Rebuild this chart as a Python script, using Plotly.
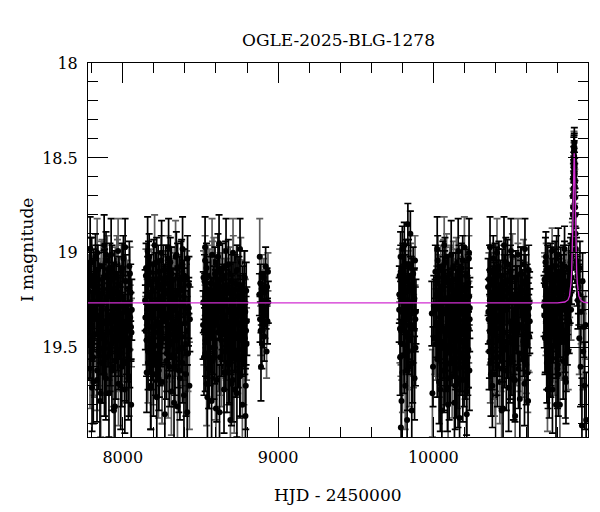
import plotly.graph_objects as go

title_text = "OGLE-2025-BLG-1278"
x_label = "HJD - 2450000"
y_label = "I magnitude"

# ---------------- season 1 ----------------
t_s1 = [7776, 7779, 7783, 7786, 7789, 7792, 7796, 7799, 7802, 7805,
        7808, 7812, 7815, 7818, 7821, 7824, 7828, 7831, 7834, 7837,
        7840, 7844, 7847, 7850, 7853, 7856, 7860, 7863, 7866, 7869,
        7872, 7876, 7879, 7882, 7885, 7888, 7892, 7895, 7898, 7901,
        7904, 7908, 7911, 7914, 7917, 7920, 7924, 7927, 7930, 7933,
        7936, 7940, 7943, 7946, 7949, 7952, 7956, 7959, 7962, 7965,
        7968, 7972, 7975, 7978, 7981, 7984, 7988, 7991, 7994, 7997,
        8000, 8004, 8007, 8010, 8013, 8016, 8020, 8023, 8026, 8029,
        8032, 8036, 8039, 8042, 8045, 8048, 8051, 8054, 8056, 8058]
m_s1 = [19.32, 19.15, 19.48, 19.27, 19.61, 19.05, 19.38, 19.22, 19.71, 19.29,
        19.44, 19.12, 19.35, 19.56, 19.19, 19.02, 19.41, 19.26, 19.67, 19.33,
        19.09, 19.52, 19.24, 19.37, 19.78, 19.18, 19.45, 19.30, 19.06, 19.58,
        19.21, 19.39, 19.13, 19.64, 19.28, 19.47, 19.01, 19.34, 19.55, 19.23,
        19.42, 19.16, 19.74, 19.31, 19.08, 19.50, 19.25, 19.36, 19.62, 19.14,
        19.40, 19.20, 19.83, 19.29, 19.46, 19.11, 19.57, 19.33, 19.04, 19.43,
        19.26, 19.69, 19.17, 19.38, 19.53, 19.22, 19.35, 19.10, 19.60, 19.28,
        19.49, 19.03, 19.40, 19.24, 19.72, 19.31, 19.15, 19.45, 19.58, 19.19,
        19.37, 19.66, 19.27, 19.07, 19.51, 19.34, 19.21, 19.80, 19.42, 19.30]
e_s1 = [0.17, 0.14, 0.19, 0.16, 0.21, 0.13, 0.18, 0.15, 0.23, 0.16,
        0.19, 0.14, 0.17, 0.20, 0.15, 0.12, 0.18, 0.16, 0.22, 0.17,
        0.13, 0.20, 0.15, 0.18, 0.24, 0.15, 0.19, 0.16, 0.13, 0.21,
        0.15, 0.18, 0.14, 0.22, 0.16, 0.19, 0.12, 0.17, 0.20, 0.15,
        0.18, 0.14, 0.23, 0.17, 0.13, 0.20, 0.16, 0.17, 0.21, 0.14,
        0.18, 0.15, 0.25, 0.16, 0.19, 0.14, 0.20, 0.17, 0.13, 0.19,
        0.16, 0.22, 0.15, 0.18, 0.20, 0.15, 0.17, 0.14, 0.21, 0.16,
        0.19, 0.12, 0.18, 0.16, 0.23, 0.17, 0.14, 0.19, 0.21, 0.15,
        0.18, 0.22, 0.16, 0.13, 0.20, 0.17, 0.15, 0.24, 0.18, 0.16]
t_s1b = [7777.5, 7782, 7787, 7791, 7795, 7800, 7804, 7809, 7813, 7817,
         7822, 7826, 7830, 7835, 7839, 7843, 7848, 7852, 7857, 7861,
         7865, 7870, 7874, 7878, 7883, 7887, 7891, 7896, 7900, 7905,
         7909, 7913, 7918, 7922, 7926, 7931, 7935, 7939, 7944, 7948,
         7953, 7957, 7961, 7966, 7970, 7974, 7979, 7983, 7987, 7992,
         7996, 8001, 8005, 8011, 8017, 8024, 8031, 8038, 8046, 8053]
m_s1b = [19.20, 19.36, 19.11, 19.47, 19.28, 19.05, 19.39, 19.55, 19.18, 19.31,
         19.43, 19.09, 19.26, 19.62, 19.34, 19.14, 19.50, 19.23, 19.40, 19.07,
         19.30, 19.58, 19.19, 19.45, 19.12, 19.37, 19.66, 19.25, 19.04, 19.42,
         19.33, 19.16, 19.53, 19.22, 19.48, 19.10, 19.35, 19.60, 19.27, 19.13,
         19.44, 19.21, 19.38, 19.06, 19.52, 19.29, 19.17, 19.46, 19.70, 19.32,
         19.08, 19.41, 19.24, 19.57, 19.15, 19.36, 19.49, 19.26, 19.11, 19.39]
e_s1b = [0.15, 0.17, 0.14, 0.19, 0.16, 0.13, 0.18, 0.20, 0.15, 0.17,
         0.19, 0.13, 0.16, 0.21, 0.17, 0.14, 0.20, 0.15, 0.18, 0.13,
         0.16, 0.21, 0.15, 0.19, 0.14, 0.18, 0.22, 0.16, 0.13, 0.18,
         0.17, 0.15, 0.20, 0.15, 0.19, 0.14, 0.17, 0.21, 0.16, 0.14,
         0.19, 0.15, 0.18, 0.13, 0.20, 0.16, 0.15, 0.19, 0.23, 0.17,
         0.13, 0.18, 0.16, 0.21, 0.14, 0.17, 0.19, 0.16, 0.14, 0.18]
t_s1x = [7790, 7835, 7880, 7925, 7970, 8015, 7810, 7858, 7950, 8040]
m_s1x = [18.98, 19.00, 18.96, 19.01, 18.99, 18.97, 19.68, 19.74, 19.81, 19.65]
e_s1x = [0.17, 0.18, 0.16, 0.19, 0.17, 0.15, 0.22, 0.23, 0.25, 0.21]

# ---------------- season 2 ----------------
t_s2 = [8144, 8147, 8150, 8154, 8157, 8160, 8163, 8167, 8170, 8173,
        8176, 8180, 8183, 8186, 8189, 8193, 8196, 8199, 8202, 8206,
        8209, 8212, 8215, 8219, 8222, 8225, 8228, 8232, 8235, 8238,
        8241, 8245, 8248, 8251, 8254, 8258, 8261, 8264, 8267, 8271,
        8274, 8277, 8280, 8284, 8287, 8290, 8293, 8297, 8300, 8303,
        8306, 8310, 8313, 8316, 8319, 8323, 8326, 8329, 8332, 8336,
        8339, 8342, 8345, 8349, 8352, 8355, 8358, 8362, 8365, 8368,
        8371, 8375, 8378, 8381, 8384, 8388, 8391, 8394, 8397, 8401,
        8404, 8407, 8410, 8414, 8417, 8420, 8423, 8426, 8429, 8432]
m_s2 = [19.25, 19.41, 19.08, 19.63, 19.30, 19.17, 19.52, 19.36, 19.02, 19.45,
        19.21, 19.70, 19.33, 19.12, 19.48, 19.27, 19.59, 19.06, 19.39, 19.23,
        19.55, 19.14, 19.34, 19.76, 19.29, 19.44, 19.10, 19.62, 19.37, 19.19,
        19.50, 19.26, 19.04, 19.42, 19.68, 19.31, 19.16, 19.47, 19.22, 19.85,
        19.35, 19.09, 19.57, 19.28, 19.40, 19.13, 19.65, 19.32, 19.20, 19.49,
        19.05, 19.38, 19.73, 19.24, 19.54, 19.18, 19.43, 19.30, 19.11, 19.60,
        19.27, 19.46, 19.01, 19.36, 19.81, 19.22, 19.51, 19.15, 19.39, 19.66,
        19.33, 19.07, 19.44, 19.26, 19.58, 19.19, 19.37, 19.75, 19.12, 19.48,
        19.29, 19.64, 19.21, 19.41, 19.03, 19.53, 19.32, 19.17, 19.70, 19.35]
e_s2 = [0.16, 0.18, 0.13, 0.21, 0.16, 0.15, 0.20, 0.17, 0.12, 0.19,
        0.15, 0.23, 0.17, 0.14, 0.19, 0.16, 0.21, 0.13, 0.18, 0.15,
        0.20, 0.14, 0.17, 0.24, 0.16, 0.19, 0.14, 0.21, 0.18, 0.15,
        0.20, 0.16, 0.13, 0.18, 0.22, 0.17, 0.15, 0.19, 0.15, 0.26,
        0.17, 0.13, 0.20, 0.16, 0.18, 0.14, 0.22, 0.17, 0.15, 0.19,
        0.13, 0.18, 0.23, 0.16, 0.20, 0.15, 0.19, 0.16, 0.14, 0.21,
        0.16, 0.19, 0.12, 0.17, 0.25, 0.15, 0.20, 0.14, 0.18, 0.22,
        0.17, 0.13, 0.19, 0.16, 0.21, 0.15, 0.18, 0.24, 0.14, 0.19,
        0.16, 0.22, 0.15, 0.18, 0.12, 0.20, 0.17, 0.15, 0.23, 0.17]
t_s2b = [8145.5, 8149, 8153, 8158, 8162, 8166, 8171, 8175, 8179, 8184,
         8188, 8192, 8197, 8201, 8205, 8210, 8214, 8218, 8223, 8227,
         8231, 8236, 8240, 8244, 8249, 8253, 8257, 8262, 8266, 8270,
         8275, 8279, 8283, 8288, 8292, 8296, 8301, 8305, 8309, 8314,
         8318, 8322, 8327, 8331, 8335, 8340, 8344, 8348, 8353, 8357,
         8361, 8366, 8370, 8374, 8379, 8383, 8392, 8400, 8411, 8425]
m_s2b = [19.34, 19.12, 19.46, 19.23, 19.58, 19.07, 19.39, 19.28, 19.15, 19.52,
         19.31, 19.20, 19.64, 19.10, 19.42, 19.26, 19.37, 19.05, 19.49, 19.18,
         19.29, 19.56, 19.13, 19.40, 19.24, 19.68, 19.33, 19.09, 19.45, 19.21,
         19.36, 19.16, 19.53, 19.27, 19.03, 19.43, 19.60, 19.19, 19.32, 19.11,
         19.47, 19.25, 19.38, 19.14, 19.55, 19.30, 19.22, 19.41, 19.08, 19.35,
         19.62, 19.17, 19.44, 19.28, 19.06, 19.50, 19.23, 19.37, 19.13, 19.29]
e_s2b = [0.17, 0.14, 0.19, 0.15, 0.21, 0.13, 0.18, 0.16, 0.14, 0.20,
         0.17, 0.15, 0.22, 0.14, 0.18, 0.16, 0.17, 0.13, 0.19, 0.15,
         0.16, 0.20, 0.14, 0.18, 0.15, 0.22, 0.17, 0.13, 0.19, 0.15,
         0.17, 0.14, 0.20, 0.16, 0.12, 0.19, 0.21, 0.15, 0.17, 0.14,
         0.19, 0.16, 0.18, 0.14, 0.20, 0.16, 0.15, 0.18, 0.13, 0.17,
         0.22, 0.15, 0.19, 0.16, 0.13, 0.20, 0.15, 0.17, 0.14, 0.16]
t_s2x = [8160, 8205, 8250, 8295, 8340, 8385, 8180, 8230, 8330, 8415]
m_s2x = [18.99, 18.96, 19.00, 18.97, 19.02, 18.98, 19.71, 19.66, 19.79, 19.84]
e_s2x = [0.18, 0.16, 0.17, 0.15, 0.19, 0.17, 0.22, 0.21, 0.24, 0.25]

# ---------------- season 3 ----------------
t_s3 = [8517, 8520, 8523, 8527, 8530, 8533, 8536, 8540, 8543, 8546,
        8549, 8552, 8556, 8559, 8562, 8565, 8568, 8572, 8575, 8578,
        8581, 8584, 8588, 8591, 8594, 8597, 8600, 8604, 8607, 8610,
        8613, 8616, 8620, 8623, 8626, 8629, 8632, 8636, 8639, 8642,
        8645, 8648, 8652, 8655, 8658, 8661, 8664, 8668, 8671, 8674,
        8677, 8680, 8684, 8687, 8690, 8693, 8696, 8700, 8703, 8706,
        8709, 8712, 8716, 8719, 8722, 8725, 8728, 8732, 8735, 8738,
        8741, 8744, 8748, 8751, 8754, 8757, 8760, 8764, 8767, 8770,
        8773, 8776, 8780, 8783, 8786, 8789, 8792, 8795, 8797, 8799]
m_s3 = [19.38, 19.13, 19.55, 19.27, 19.04, 19.46, 19.31, 19.69, 19.20, 19.42,
        19.09, 19.35, 19.61, 19.24, 19.50, 19.16, 19.40, 19.78, 19.29, 19.07,
        19.45, 19.22, 19.57, 19.33, 19.11, 19.66, 19.37, 19.19, 19.48, 19.26,
        19.02, 19.53, 19.30, 19.84, 19.14, 19.41, 19.23, 19.60, 19.34, 19.08,
        19.47, 19.28, 19.72, 19.18, 19.39, 19.52, 19.12, 19.36, 19.63, 19.25,
        19.43, 19.06, 19.32, 19.58, 19.21, 19.88, 19.40, 19.15, 19.49, 19.27,
        19.67, 19.03, 19.35, 19.44, 19.19, 19.56, 19.30, 19.10, 19.74, 19.37,
        19.24, 19.51, 19.17, 19.42, 19.64, 19.28, 19.05, 19.46, 19.33, 19.80,
        19.22, 19.39, 19.59, 19.13, 19.45, 19.31, 19.70, 19.20, 19.48, 19.36]
e_s3 = [0.18, 0.14, 0.20, 0.16, 0.13, 0.19, 0.17, 0.22, 0.15, 0.18,
        0.13, 0.17, 0.21, 0.15, 0.20, 0.14, 0.18, 0.24, 0.16, 0.13,
        0.19, 0.15, 0.20, 0.17, 0.14, 0.22, 0.18, 0.15, 0.19, 0.16,
        0.12, 0.20, 0.16, 0.25, 0.14, 0.18, 0.15, 0.21, 0.17, 0.13,
        0.19, 0.16, 0.23, 0.15, 0.18, 0.20, 0.14, 0.17, 0.21, 0.16,
        0.19, 0.13, 0.17, 0.21, 0.15, 0.26, 0.18, 0.14, 0.19, 0.16,
        0.22, 0.12, 0.17, 0.19, 0.15, 0.20, 0.16, 0.14, 0.23, 0.18,
        0.15, 0.20, 0.15, 0.18, 0.22, 0.16, 0.13, 0.19, 0.17, 0.24,
        0.15, 0.18, 0.21, 0.14, 0.19, 0.17, 0.23, 0.15, 0.19, 0.18]
t_s3b = [8518.5, 8522, 8526, 8531, 8535, 8539, 8544, 8548, 8553, 8557,
         8561, 8566, 8570, 8574, 8579, 8583, 8587, 8592, 8596, 8601,
         8605, 8609, 8614, 8618, 8622, 8627, 8631, 8635, 8640, 8644,
         8649, 8653, 8657, 8662, 8666, 8670, 8675, 8679, 8683, 8688,
         8692, 8697, 8701, 8705, 8710, 8714, 8718, 8723, 8727, 8731,
         8736, 8740, 8745, 8749, 8755, 8762, 8769, 8777, 8785, 8794]
m_s3b = [19.26, 19.41, 19.15, 19.53, 19.33, 19.08, 19.47, 19.22, 19.61, 19.36,
         19.12, 19.44, 19.29, 19.19, 19.57, 19.38, 19.05, 19.50, 19.24, 19.34,
         19.67, 19.17, 19.42, 19.30, 19.10, 19.55, 19.27, 19.46, 19.14, 19.39,
         19.21, 19.63, 19.35, 19.07, 19.48, 19.25, 19.40, 19.18, 19.59, 19.31,
         19.11, 19.45, 19.28, 19.52, 19.20, 19.37, 19.72, 19.16, 19.43, 19.32,
         19.09, 19.54, 19.23, 19.38, 19.65, 19.19, 19.46, 19.27, 19.13, 19.41]
e_s3b = [0.16, 0.18, 0.14, 0.20, 0.17, 0.13, 0.19, 0.15, 0.21, 0.17,
         0.14, 0.19, 0.16, 0.15, 0.20, 0.18, 0.13, 0.19, 0.15, 0.17,
         0.22, 0.15, 0.18, 0.16, 0.14, 0.20, 0.16, 0.19, 0.14, 0.18,
         0.15, 0.21, 0.17, 0.13, 0.19, 0.16, 0.18, 0.15, 0.21, 0.17,
         0.14, 0.19, 0.16, 0.20, 0.15, 0.18, 0.23, 0.15, 0.19, 0.17,
         0.13, 0.20, 0.15, 0.18, 0.22, 0.15, 0.19, 0.16, 0.14, 0.18]
t_s3x = [8530, 8575, 8620, 8665, 8710, 8755, 8545, 8600, 8700, 8790]
m_s3x = [18.97, 19.01, 18.95, 18.99, 19.00, 18.98, 19.76, 19.82, 19.69, 19.86]
e_s3x = [0.16, 0.19, 0.15, 0.17, 0.18, 0.16, 0.23, 0.25, 0.22, 0.25]

# ---------------- season 4 (short) ----------------
t_s4 = [8880, 8882, 8884, 8886, 8888, 8890, 8892, 8894, 8896, 8898,
        8900, 8902, 8905, 8908, 8911, 8914, 8917, 8920, 8923, 8926,
        8929, 8932, 8935, 8937]
m_s4 = [19.22, 19.02, 19.35, 19.16, 19.41, 19.60, 19.27, 19.11, 19.48, 19.30,
        19.19, 19.25, 19.38, 19.13, 19.44, 19.21, 19.33, 19.07, 19.29, 19.52,
        19.18, 19.36, 19.10, 19.26]
e_s4 = [0.11, 0.20, 0.12, 0.10, 0.13, 0.18, 0.11, 0.10, 0.13, 0.11,
        0.10, 0.11, 0.12, 0.10, 0.13, 0.11, 0.12, 0.10, 0.11, 0.14,
        0.10, 0.12, 0.10, 0.11]

# ---------------- season 5 ----------------
t_s5 = [9780, 9783, 9786, 9789, 9792, 9795, 9798, 9801, 9804, 9807,
        9810, 9813, 9816, 9819, 9822, 9825, 9828, 9831, 9834, 9837,
        9840, 9843, 9846, 9849, 9852, 9855, 9858, 9861, 9864, 9867,
        9870, 9873, 9876, 9879, 9882, 9885, 9888, 9791, 9815, 9836]
m_s5 = [19.30, 19.12, 19.55, 19.02, 19.41, 19.78, 19.24, 19.63, 19.08, 19.36,
        19.49, 18.96, 19.27, 19.70, 19.15, 19.44, 19.33, 19.88, 19.20, 19.52,
        19.06, 19.38, 19.60, 19.28, 18.90, 19.46, 19.17, 19.83, 19.34, 19.58,
        19.11, 19.40, 19.25, 19.66, 19.04, 19.50, 19.31, 19.92, 19.21, 18.85]
e_s5 = [0.17, 0.14, 0.20, 0.13, 0.18, 0.24, 0.16, 0.21, 0.13, 0.17,
        0.19, 0.12, 0.16, 0.23, 0.14, 0.19, 0.17, 0.26, 0.15, 0.20,
        0.13, 0.18, 0.21, 0.16, 0.12, 0.19, 0.15, 0.25, 0.17, 0.21,
        0.14, 0.18, 0.16, 0.22, 0.13, 0.20, 0.17, 0.27, 0.15, 0.11]
t_s5b = [9781, 9785, 9790, 9794, 9797, 9800, 9803, 9806, 9809, 9812,
         9818, 9821, 9824, 9827, 9830, 9833, 9839, 9842, 9848, 9854,
         9860, 9866, 9872, 9878, 9884]
m_s5b = [19.22, 19.40, 19.10, 19.31, 19.48, 18.98, 19.26, 19.37, 19.15, 19.54,
         19.29, 19.06, 19.43, 19.20, 19.34, 19.62, 19.13, 19.45, 19.27, 19.08,
         19.39, 19.18, 19.51, 19.24, 19.35]
e_s5b = [0.15, 0.18, 0.14, 0.17, 0.19, 0.12, 0.16, 0.18, 0.14, 0.20,
         0.16, 0.13, 0.19, 0.15, 0.17, 0.21, 0.14, 0.19, 0.16, 0.13,
         0.18, 0.15, 0.20, 0.16, 0.17]

# ---------------- season 6 ----------------
t_s6 = [9990, 9994, 9998, 10003, 10008, 10013, 10018, 10022, 10025, 10028,
        10031, 10034, 10037, 10040, 10043, 10046, 10049, 10052, 10055, 10058,
        10061, 10064, 10067, 10070, 10073, 10076, 10079, 10082, 10085, 10088,
        10091, 10094, 10097, 10100, 10103, 10106, 10109, 10112, 10115, 10118,
        10121, 10124, 10127, 10130, 10133, 10136, 10139, 10142, 10145, 10148,
        10151, 10154, 10157, 10160, 10163, 10166, 10169, 10172, 10175, 10178,
        10181, 10184, 10187, 10190, 10193, 10196, 10199, 10202, 10205, 10208,
        10211, 10214, 10217, 10220, 10223, 10226, 10229, 10232, 10235, 10027,
        10036, 10051, 10066, 10081, 10096, 10111, 10126, 10141, 10156, 10171]
m_s6 = [19.32, 19.74, 19.60, 19.28, 19.45, 19.10, 19.37, 19.22, 19.56, 19.04,
        19.41, 19.29, 19.68, 19.15, 19.34, 19.50, 19.19, 19.26, 19.83, 19.39,
        19.07, 19.47, 19.31, 19.62, 19.13, 19.36, 19.24, 19.53, 19.02, 19.43,
        19.71, 19.20, 19.35, 19.16, 19.49, 19.27, 19.58, 19.09, 19.40, 19.30,
        19.65, 19.23, 19.44, 19.12, 19.33, 19.79, 19.18, 19.52, 19.38, 19.05,
        19.46, 19.25, 19.61, 19.14, 19.42, 19.31, 19.87, 19.21, 19.36, 19.55,
        19.08, 19.48, 19.28, 19.67, 19.17, 19.40, 19.33, 19.11, 19.57, 19.26,
        19.44, 19.73, 19.19, 19.35, 19.51, 19.51, 19.03, 19.62, 19.29, 19.46,
        19.22, 19.38, 19.06, 19.59, 19.27, 19.43, 19.14, 19.70, 19.34, 19.24]
e_s6 = [0.17, 0.23, 0.21, 0.16, 0.19, 0.14, 0.18, 0.15, 0.20, 0.13,
        0.18, 0.16, 0.22, 0.14, 0.17, 0.20, 0.15, 0.16, 0.25, 0.18,
        0.13, 0.19, 0.17, 0.21, 0.14, 0.18, 0.15, 0.20, 0.12, 0.19,
        0.23, 0.15, 0.17, 0.14, 0.19, 0.16, 0.21, 0.13, 0.18, 0.16,
        0.22, 0.15, 0.19, 0.14, 0.17, 0.24, 0.15, 0.20, 0.18, 0.13,
        0.19, 0.16, 0.21, 0.14, 0.18, 0.17, 0.26, 0.15, 0.18, 0.20,
        0.13, 0.19, 0.16, 0.22, 0.15, 0.18, 0.17, 0.14, 0.20, 0.16,
        0.19, 0.23, 0.15, 0.17, 0.20, 0.20, 0.12, 0.21, 0.16, 0.19,
        0.15, 0.18, 0.13, 0.21, 0.16, 0.19, 0.14, 0.23, 0.17, 0.15]
t_s6b = [10021, 10024, 10030, 10033, 10039, 10042, 10045, 10048, 10054, 10057,
         10060, 10063, 10069, 10072, 10075, 10078, 10084, 10087, 10090, 10093,
         10099, 10102, 10105, 10108, 10114, 10117, 10120, 10123, 10129, 10132,
         10135, 10138, 10144, 10147, 10150, 10153, 10159, 10162, 10165, 10168,
         10174, 10177, 10180, 10183, 10189, 10192, 10195, 10198, 10204, 10207,
         10210, 10213, 10219, 10222, 10225, 10228, 10231, 10234, 10016, 10011]
m_s6b = [19.29, 19.45, 19.13, 19.38, 19.56, 19.21, 19.34, 19.09, 19.48, 19.26,
         19.40, 19.17, 19.62, 19.31, 19.05, 19.43, 19.24, 19.52, 19.15, 19.36,
         19.28, 19.66, 19.11, 19.41, 19.33, 19.19, 19.50, 19.25, 19.07, 19.46,
         19.37, 19.58, 19.14, 19.30, 19.44, 19.22, 19.69, 19.35, 19.10, 19.42,
         19.27, 19.53, 19.18, 19.39, 19.04, 19.47, 19.32, 19.60, 19.20, 19.36,
         19.12, 19.44, 19.28, 19.55, 19.16, 19.40, 19.23, 19.35, 19.48, 19.30]
e_s6b = [0.16, 0.19, 0.14, 0.18, 0.20, 0.15, 0.17, 0.13, 0.19, 0.16,
         0.18, 0.15, 0.22, 0.17, 0.13, 0.19, 0.15, 0.20, 0.14, 0.18,
         0.16, 0.22, 0.14, 0.18, 0.17, 0.15, 0.20, 0.16, 0.13, 0.19,
         0.18, 0.21, 0.14, 0.16, 0.19, 0.15, 0.23, 0.17, 0.14, 0.18,
         0.16, 0.20, 0.15, 0.18, 0.13, 0.19, 0.17, 0.21, 0.15, 0.18,
         0.14, 0.19, 0.16, 0.20, 0.15, 0.18, 0.15, 0.17, 0.19, 0.16]
t_s6x = [10025, 10070, 10115, 10160, 10200, 10230, 10045, 10095, 10150, 10215]
m_s6x = [18.98, 18.96, 19.01, 18.99, 18.97, 19.00, 19.72, 19.80, 19.66, 19.85]
e_s6x = [0.17, 0.15, 0.18, 0.17, 0.16, 0.18, 0.22, 0.24, 0.21, 0.25]

# ---------------- season 7 ----------------
t_s7 = [10353, 10356, 10359, 10362, 10365, 10368, 10371, 10374, 10377, 10380,
        10383, 10386, 10389, 10392, 10395, 10398, 10401, 10404, 10407, 10410,
        10413, 10416, 10419, 10422, 10425, 10428, 10431, 10434, 10437, 10440,
        10443, 10446, 10449, 10452, 10455, 10458, 10461, 10464, 10467, 10470,
        10473, 10476, 10479, 10482, 10485, 10488, 10491, 10494, 10497, 10500,
        10503, 10506, 10509, 10512, 10515, 10518, 10521, 10524, 10527, 10530,
        10533, 10536, 10539, 10542, 10545, 10548, 10551, 10554, 10557, 10560,
        10563, 10566, 10569, 10572, 10575, 10578, 10581, 10584, 10587, 10590,
        10593, 10596, 10599, 10602, 10605, 10608, 10611, 10614, 10617, 10620]
m_s7 = [19.18, 19.35, 19.52, 19.09, 19.41, 19.26, 19.64, 19.14, 19.38, 19.22,
        19.49, 19.03, 19.31, 19.57, 19.20, 19.43, 19.75, 19.28, 19.11, 19.36,
        19.60, 19.24, 19.46, 19.07, 19.33, 19.68, 19.19, 19.40, 19.53, 19.27,
        19.12, 19.44, 19.82, 19.30, 19.16, 19.51, 19.23, 19.37, 19.05, 19.62,
        19.29, 19.47, 19.15, 19.34, 19.71, 19.21, 19.42, 19.58, 19.10, 19.32,
        19.25, 19.55, 19.02, 19.39, 19.66, 19.17, 19.45, 19.30, 19.86, 19.13,
        19.36, 19.50, 19.22, 19.41, 19.08, 19.61, 19.27, 19.34, 19.77, 19.19,
        19.48, 19.11, 19.38, 19.56, 19.24, 19.43, 19.06, 19.31, 19.69, 19.20,
        19.40, 19.15, 19.54, 19.28, 19.48, 19.63, 19.33, 19.09, 19.44, 19.26]
e_s7 = [0.15, 0.17, 0.20, 0.13, 0.18, 0.16, 0.22, 0.14, 0.18, 0.15,
        0.19, 0.12, 0.17, 0.20, 0.15, 0.19, 0.24, 0.16, 0.14, 0.17,
        0.21, 0.15, 0.19, 0.13, 0.17, 0.22, 0.15, 0.18, 0.20, 0.16,
        0.14, 0.19, 0.25, 0.16, 0.15, 0.20, 0.15, 0.18, 0.13, 0.21,
        0.16, 0.19, 0.14, 0.17, 0.23, 0.15, 0.18, 0.21, 0.14, 0.17,
        0.16, 0.20, 0.12, 0.18, 0.22, 0.15, 0.19, 0.16, 0.26, 0.14,
        0.17, 0.20, 0.15, 0.18, 0.13, 0.21, 0.16, 0.17, 0.24, 0.15,
        0.19, 0.14, 0.18, 0.20, 0.15, 0.19, 0.13, 0.16, 0.22, 0.15,
        0.18, 0.14, 0.20, 0.16, 0.19, 0.21, 0.17, 0.13, 0.19, 0.16]
t_s7b = [10354.5, 10358, 10361, 10364, 10367, 10370, 10373, 10376, 10379, 10382,
         10385, 10388, 10391, 10394, 10397, 10400, 10403, 10406, 10409, 10412,
         10418, 10424, 10430, 10436, 10442, 10448, 10454, 10460, 10466, 10472,
         10478, 10484, 10490, 10496, 10502, 10508, 10514, 10520, 10526, 10532,
         10538, 10544, 10550, 10556, 10562, 10568, 10574, 10580, 10586, 10592,
         10598, 10604, 10610, 10616, 10621, 10415, 10445, 10475, 10505, 10535]
m_s7b = [19.31, 19.14, 19.47, 19.25, 19.58, 19.10, 19.38, 19.22, 19.52, 19.33,
         19.17, 19.43, 19.27, 19.64, 19.08, 19.40, 19.29, 19.19, 19.55, 19.36,
         19.12, 19.46, 19.24, 19.35, 19.61, 19.20, 19.42, 19.15, 19.50, 19.30,
         19.06, 19.44, 19.26, 19.57, 19.37, 19.13, 19.48, 19.23, 19.67, 19.32,
         19.18, 19.41, 19.28, 19.53, 19.11, 19.39, 19.25, 19.46, 19.16, 19.34,
         19.59, 19.21, 19.43, 19.29, 19.36, 19.09, 19.49, 19.27, 19.38, 19.22]
e_s7b = [0.17, 0.14, 0.19, 0.16, 0.21, 0.14, 0.18, 0.15, 0.20, 0.17,
         0.15, 0.19, 0.16, 0.22, 0.13, 0.18, 0.16, 0.15, 0.20, 0.17,
         0.14, 0.19, 0.15, 0.17, 0.21, 0.15, 0.18, 0.14, 0.20, 0.16,
         0.13, 0.19, 0.16, 0.20, 0.17, 0.14, 0.19, 0.15, 0.22, 0.17,
         0.15, 0.18, 0.16, 0.20, 0.14, 0.18, 0.16, 0.19, 0.15, 0.17,
         0.21, 0.15, 0.19, 0.16, 0.17, 0.13, 0.19, 0.16, 0.18, 0.15]
t_s7x = [10365, 10410, 10455, 10500, 10545, 10590, 10380, 10440, 10520, 10610]
m_s7x = [18.97, 19.00, 18.96, 18.99, 19.01, 18.98, 19.70, 19.83, 19.67, 19.78]
e_s7x = [0.16, 0.18, 0.15, 0.17, 0.19, 0.16, 0.22, 0.25, 0.21, 0.24]

# ---------------- season 8 (before event) ----------------
t_s8 = [10713, 10716, 10719, 10722, 10725, 10728, 10731, 10734, 10737, 10740,
        10743, 10746, 10749, 10752, 10755, 10758, 10761, 10764, 10767, 10770,
        10773, 10776, 10779, 10782, 10785, 10788, 10791, 10794, 10797, 10800,
        10803, 10806, 10809, 10812, 10815, 10818, 10821, 10824, 10827, 10830,
        10833, 10836, 10839, 10842, 10845, 10848, 10851, 10854, 10857, 10860,
        10863, 10866, 10869, 10872, 10875, 10878, 10881, 10884, 10887, 10890]
m_s8 = [19.28, 19.14, 19.45, 19.05, 19.36, 19.22, 19.58, 19.31, 19.10, 19.42,
        19.19, 19.65, 19.27, 19.38, 19.08, 19.50, 19.24, 19.33, 19.72, 19.16,
        19.40, 19.29, 19.55, 19.12, 19.35, 19.21, 19.47, 19.03, 19.32, 19.61,
        19.25, 19.43, 19.18, 19.37, 19.80, 19.26, 19.11, 19.48, 19.30, 19.20,
        19.39, 19.57, 19.15, 19.34, 19.07, 19.44, 19.23, 19.68, 19.31, 19.13,
        19.41, 19.27, 19.52, 19.09, 19.36, 19.19, 19.22, 19.05, 19.30, 19.13]
e_s8 = [0.16, 0.14, 0.19, 0.13, 0.18, 0.15, 0.21, 0.17, 0.14, 0.18,
        0.15, 0.22, 0.16, 0.18, 0.13, 0.20, 0.15, 0.17, 0.23, 0.15,
        0.18, 0.16, 0.20, 0.14, 0.17, 0.15, 0.19, 0.12, 0.17, 0.21,
        0.16, 0.19, 0.15, 0.18, 0.25, 0.16, 0.14, 0.19, 0.17, 0.15,
        0.18, 0.20, 0.14, 0.17, 0.13, 0.19, 0.15, 0.22, 0.17, 0.14,
        0.18, 0.16, 0.20, 0.13, 0.17, 0.15, 0.15, 0.13, 0.16, 0.14]
t_s8c = [10714.5, 10718, 10721, 10724, 10727, 10730, 10733, 10736, 10739, 10742,
         10745, 10748, 10751, 10754, 10757, 10760, 10763, 10766, 10769, 10772,
         10778, 10784, 10790, 10796, 10802, 10808, 10814, 10820, 10826, 10832,
         10838, 10844, 10850, 10856, 10862, 10868, 10874, 10880, 10886, 10889,
         10775, 10781, 10787, 10793, 10799, 10805, 10811, 10817, 10823, 10829]
m_s8c = [19.33, 19.17, 19.44, 19.26, 19.09, 19.52, 19.30, 19.20, 19.61, 19.38,
         19.13, 19.46, 19.24, 19.35, 19.56, 19.11, 19.40, 19.28, 19.18, 19.49,
         19.32, 19.07, 19.43, 19.25, 19.59, 19.15, 19.37, 19.22, 19.47, 19.29,
         19.10, 19.41, 19.27, 19.53, 19.19, 19.34, 19.23, 19.14, 19.08, 19.02,
         19.36, 19.21, 19.45, 19.12, 19.30, 19.64, 19.26, 19.39, 19.16, 19.42]
e_s8c = [0.17, 0.15, 0.19, 0.16, 0.14, 0.20, 0.17, 0.15, 0.21, 0.18,
         0.14, 0.19, 0.16, 0.17, 0.20, 0.14, 0.18, 0.16, 0.15, 0.19,
         0.17, 0.13, 0.19, 0.16, 0.21, 0.14, 0.18, 0.15, 0.19, 0.16,
         0.14, 0.18, 0.16, 0.20, 0.15, 0.17, 0.15, 0.14, 0.13, 0.12,
         0.18, 0.15, 0.19, 0.14, 0.17, 0.22, 0.16, 0.18, 0.15, 0.19]
t_s8x = [10725, 10765, 10805, 10845, 10735, 10790, 10850]
m_s8x = [19.02, 18.99, 19.01, 18.98, 19.72, 19.80, 19.66]
e_s8x = [0.13, 0.12, 0.14, 0.12, 0.22, 0.24, 0.21]

# ---------------- event (season 8) ----------------
t_ev = [10893, 10895, 10897, 10899, 10900, 10901, 10902, 10903, 10904, 10905,
        10906, 10907, 10908, 10908.5, 10909, 10910, 10911, 10912, 10913, 10914,
        10916, 10918, 10920, 10922, 10925, 10928, 10931, 10934,
        10902.5, 10903.5, 10904.5, 10905.5, 10906.5, 10907.5, 10909.5, 10910.5]
m_ev = [19.08, 18.95, 18.93, 18.80, 18.76, 18.70, 18.62, 18.58, 18.52, 18.47,
        18.44, 18.49, 18.42, 18.53, 18.55, 18.59, 18.65, 18.71, 18.76, 18.80,
        18.90, 18.98, 19.06, 19.04, 19.15, 19.12, 19.25, 19.18,
        18.66, 18.60, 18.55, 18.50, 18.46, 18.45, 18.58, 18.62]
e_ev = [0.12, 0.11, 0.11, 0.10, 0.10, 0.09, 0.09, 0.09, 0.08, 0.08,
        0.08, 0.08, 0.08, 0.08, 0.08, 0.09, 0.09, 0.09, 0.10, 0.10,
        0.11, 0.11, 0.12, 0.12, 0.13, 0.13, 0.15, 0.14,
        0.09, 0.09, 0.08, 0.08, 0.08, 0.08, 0.08, 0.09]

# ---------------- after event ----------------
t_s8b = [10937, 10940, 10944, 10948, 10952, 10957, 10961, 10965, 10970, 10975, 10980, 10984]
m_s8b = [19.22, 19.45, 19.08, 19.60, 19.31, 19.91, 19.15, 19.52, 19.39, 19.70, 19.38, 19.88]
e_s8b = [0.16, 0.19, 0.14, 0.21, 0.17, 0.25, 0.15, 0.20, 0.16, 0.23, 0.18, 0.25]

# ---------------- model curve ----------------
model_t = [7776, 10800, 10847, 10867, 10877, 10882, 10887, 10891, 10894, 10897,
           10899, 10901, 10903, 10905, 10907, 10909, 10911, 10913, 10915, 10917,
           10920, 10923, 10927, 10932, 10937, 10947, 10967, 10996]
model_m = [19.263, 19.263, 19.259, 19.248, 19.227, 19.203, 19.158, 19.095, 19.021, 18.915,
           18.823, 18.716, 18.604, 18.512, 18.476, 18.512, 18.604, 18.716, 18.823, 18.915,
           19.021, 19.095, 19.158, 19.203, 19.227, 19.248, 19.259, 19.263]

FONT = "DejaVu Serif"

fig = go.Figure()

seasons = [(t_s1, m_s1, e_s1), (t_s1b, m_s1b, e_s1b), (t_s1x, m_s1x, e_s1x),
           (t_s2, m_s2, e_s2), (t_s2b, m_s2b, e_s2b), (t_s2x, m_s2x, e_s2x),
           (t_s3, m_s3, e_s3), (t_s3b, m_s3b, e_s3b), (t_s3x, m_s3x, e_s3x),
           (t_s4, m_s4, e_s4),
           (t_s5, m_s5, e_s5), (t_s5b, m_s5b, e_s5b),
           (t_s6, m_s6, e_s6), (t_s6b, m_s6b, e_s6b), (t_s6x, m_s6x, e_s6x),
           (t_s7, m_s7, e_s7), (t_s7b, m_s7b, e_s7b), (t_s7x, m_s7x, e_s7x),
           (t_s8, m_s8, e_s8), (t_s8c, m_s8c, e_s8c), (t_s8x, m_s8x, e_s8x),
           (t_ev, m_ev, e_ev), (t_s8b, m_s8b, e_s8b)]

# grey error bars for every third point underneath, black for the rest on top
for group, col in (((1,), "#5e5e5e"), ((0, 2), "#000000")):
    for t, m, e in seasons:
        n = min(len(t), len(m), len(e))
        idx = [i for i in range(n) if i % 3 in group]
        fig.add_trace(go.Scatter(
            x=[t[i] for i in idx], y=[m[i] for i in idx], mode="markers",
            marker=dict(color="black", size=6, line=dict(width=0)),
            error_y=dict(type="data", array=[e[i] for i in idx], color=col,
                         thickness=1.7, width=3.5),
            showlegend=False, hoverinfo="skip"))

fig.add_trace(go.Scatter(x=model_t, y=model_m, mode="lines",
                         line=dict(color="#d22ed2", width=1.3),
                         showlegend=False, hoverinfo="skip"))

axis_common = dict(showline=True, linecolor="black", linewidth=1, mirror="ticks",
                   ticks="inside", ticklen=20, tickwidth=1, tickcolor="black",
                   showgrid=False, zeroline=False, automargin=False,
                   tickfont=dict(family=FONT, size=16, color="black"))

fig.update_xaxes(range=[7776, 10996], autorange=False, tick0=0, dtick=1000,
                 tickformat="d", ticklabelstandoff=6,
                 minor=dict(dtick=200, tick0=0, ticks="inside", ticklen=10,
                            tickwidth=1, tickcolor="black"),
                 **axis_common)
fig.update_yaxes(range=[19.97, 18.0], autorange=False, tick0=18, dtick=0.5,
                 ticklabelstandoff=6,
                 minor=dict(dtick=0.1, tick0=18, ticks="inside", ticklen=10,
                            tickwidth=1, tickcolor="black"),
                 **axis_common)

# the page body adds an 8 px offset, so the figure is 8 px smaller
fig.update_layout(
    width=592, height=504,
    margin=dict(l=80, r=12, t=55, b=75, pad=0, autoexpand=False),
    paper_bgcolor="white", plot_bgcolor="white",
    font=dict(family=FONT, size=16, color="black"),
    annotations=[
        dict(text=title_text, x=0.5, y=1 + (55 - 32) / 374, xref="paper", yref="paper",
             xanchor="center", yanchor="middle", showarrow=False,
             font=dict(family=FONT, size=17, color="black")),
        dict(text=x_label, x=0.5, y=-(487 - 429) / 374, xref="paper", yref="paper",
             xanchor="center", yanchor="middle", showarrow=False,
             font=dict(family=FONT, size=17, color="black")),
        dict(text=y_label, x=-(80 - 19) / 500, y=0.5, xref="paper", yref="paper",
             xanchor="center", yanchor="middle", textangle=-90, showarrow=False,
             font=dict(family=FONT, size=17, color="black")),
    ],
)

fig.write_html("out.html")
